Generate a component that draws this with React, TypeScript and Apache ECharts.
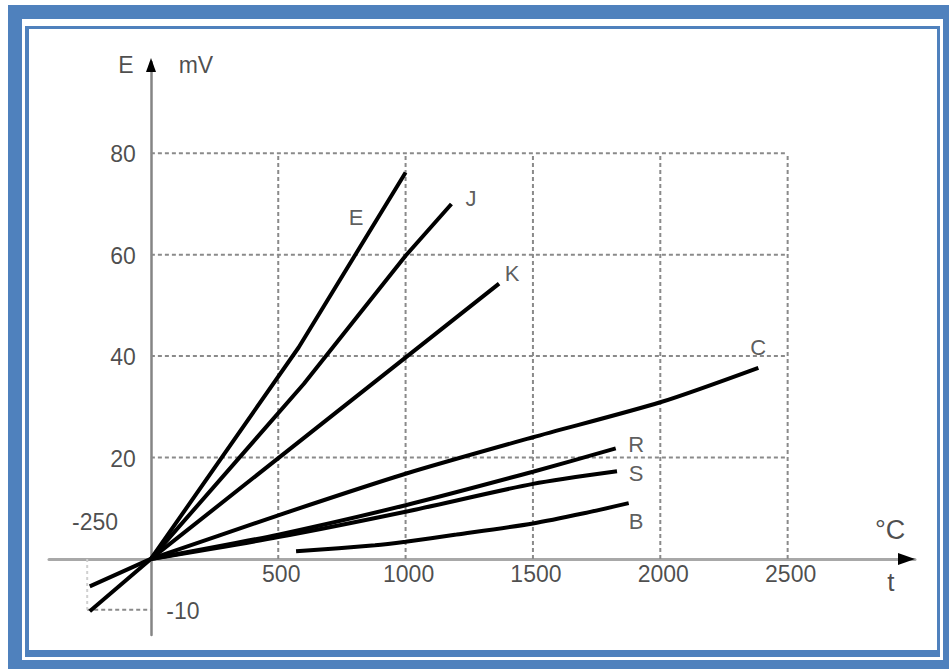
import React, { useEffect, useRef } from "react";
import * as echarts from "echarts";

// Tick values
const xTicks = [500, 1000, 1500, 2000, 2500];
const yTicks = [20, 40, 60, 80];

// Thermocouple curves: [temperature °C, EMF mV]
const curveE = [[-240, -10.3], [0, 0], [580, 41.7], [1000, 76.2]];
const curveJ = [[0, 0], [600, 34.5], [1000, 59.8], [1180, 70]];
const curveK = [[-240, -5.4], [0, 0], [1367, 54.3]];
const curveC = [[0, 0], [500, 8.6], [1000, 16.8], [1500, 24.0], [2000, 30.9], [2385, 37.7]];
const curveR = [[0, 0], [500, 4.8], [1000, 10.6], [1500, 17.2], [1825, 21.8]];
const curveS = [[0, 0], [500, 4.3], [1000, 9.3], [1500, 14.8], [1830, 17.3]];
const curveB = [[570, 1.5], [880, 2.7], [1000, 3.4], [1200, 4.8], [1500, 7.0], [1700, 9.0], [1876, 11.0]];

const curveNames = ["E", "J", "K", "C", "R", "S", "B"];
const curves = [curveE, curveJ, curveK, curveC, curveR, curveS, curveB];

// Text anchors: [x, y, text]
const curveLabels: [number, number, string][] = [
  [806, 67.4, "E"],
  [1257, 71.0, "J"],
  [1418, 56.2, "K"],
  [2384, 41.6, "C"],
  [1905, 22.5, "R"],
  [1905, 16.9, "S"],
  [1905, 7.3, "B"],
];
const extraLabels: [number, number, string, number][] = [
  [126, -10.3, "-10", 23],
  [-219, 7.3, "-250", 23],
  [-98, 97.5, "E", 23],
  [177, 97.5, "mV", 23],
  [2902, 5.7, "°C", 27],
  [2905, -4.6, "t", 26],
];

const FONT = "'Liberation Sans', Arial, sans-serif";
const BLUE = "#4F81BD";
const TXT = "#1e1e1e";

export default function App() {
  const ref = useRef<HTMLDivElement>(null);
  useEffect(() => {
    document.body.style.margin = "0";
    const chart = echarts.init(ref.current!, null, { renderer: "svg" });

    // dashed grid segments built from tick values
    const gridSegs: number[][][] = [];
    const xMaxTick = xTicks[xTicks.length - 1];
    const yMaxTick = yTicks[yTicks.length - 1];
    yTicks.forEach((y) => gridSegs.push([[0, y], [xMaxTick, y]]));
    xTicks.forEach((x) => gridSegs.push([[x, 0], [x, yMaxTick]]));
    gridSegs.push([[-250, -10], [0, -10]]);

    const series: any[] = [];
    gridSegs.forEach((seg) =>
      series.push({
        type: "line",
        data: seg,
        symbol: "none",
        silent: true,
        z: 1,
        lineStyle: { color: "#8a8a8a", width: 2, type: [4, 3] },
      })
    );
    series.push({
      type: "line",
      data: [[-250, 0], [-250, -10]],
      symbol: "none",
      silent: true,
      z: 1,
      lineStyle: { color: "#d0d0d0", width: 2, type: [3, 3] },
    });
    curves.forEach((c, i) =>
      series.push({
        name: curveNames[i],
        type: "line",
        data: c,
        symbol: "none",
        smooth: i >= 3 ? 0.25 : false,
        z: 5,
        lineStyle: { color: "#000", width: 4, cap: "butt" },
      })
    );
    const baseLabel = {
      show: true,
      position: [0, 0],
      fontFamily: FONT,
    };
    series.push({
      type: "scatter",
      symbolSize: 0,
      silent: true,
      z: 6,
      data: [
        ...curveLabels.map(([x, y, t]) => ({
          value: [x, y],
          label: { formatter: t, fontSize: 22, color: "#333", align: "center", verticalAlign: "middle" },
        })),
        ...extraLabels.map(([x, y, t, fs]) => ({
          value: [x, y],
          label: { formatter: t, fontSize: fs, color: TXT, align: "center", verticalAlign: "middle" },
        })),
        // x tick labels along the zero line
        ...xTicks.map((x) => ({
          value: [x, 0],
          label: { formatter: String(x), fontSize: 23, color: TXT, align: "center", verticalAlign: "top", offset: [3, 4] },
        })),
        // y tick labels left of the vertical axis
        ...yTicks.map((y) => ({
          value: [0, y],
          label: { formatter: String(y), fontSize: 23, color: TXT, align: "right", verticalAlign: "middle", offset: [-15, 1] },
        })),
      ],
      label: baseLabel,
    });

    const rect = (x1: number, y1: number, x2: number, y2: number) => ({
      type: "rect",
      shape: { x: x1, y: y1, width: x2 - x1, height: y2 - y1 },
      style: { fill: BLUE },
      silent: true,
    });

    chart.setOption({
      animation: false,
      backgroundColor: "#fff",
      grid: { left: 49, right: 34, top: 62, bottom: 34 },
      xAxis: {
        type: "value",
        min: -400,
        max: 3000,
        splitLine: { show: false },
        axisTick: { show: false },
        axisLabel: { show: false },
        axisLine: { onZero: true, lineStyle: { color: "#a8a8a8", width: 3 } },
      },
      yAxis: {
        type: "value",
        min: -15,
        max: 98,
        splitLine: { show: false },
        axisTick: { show: false },
        axisLabel: { show: false },
        axisLine: { onZero: true, lineStyle: { color: "#858585", width: 2.5 } },
      },
      graphic: [
        // outer frame
        rect(8, 5, 949, 19),
        rect(8, 5, 22, 669),
        rect(943, 5, 949, 669),
        rect(8, 660, 949, 669),
        // inner frame
        rect(25, 26, 940, 29),
        rect(25, 26, 29, 657),
        rect(937, 26, 940, 657),
        rect(25, 650, 940, 657),
        // axis arrows
        {
          type: "polygon",
          shape: { points: [[146, 72], [156, 72], [151, 58]] },
          style: { fill: "#000" },
          silent: true,
          z: 10,
        },
        {
          type: "polygon",
          shape: { points: [[898, 553], [898, 565], [915, 559]] },
          style: { fill: "#000" },
          silent: true,
          z: 10,
        },
      ],
      series,
    });
    return () => chart.dispose();
  }, []);
  return (
    <div
      ref={ref}
      style={{ position: "fixed", left: 0, top: 0, width: 949, height: 669 }}
    />
  );
}
